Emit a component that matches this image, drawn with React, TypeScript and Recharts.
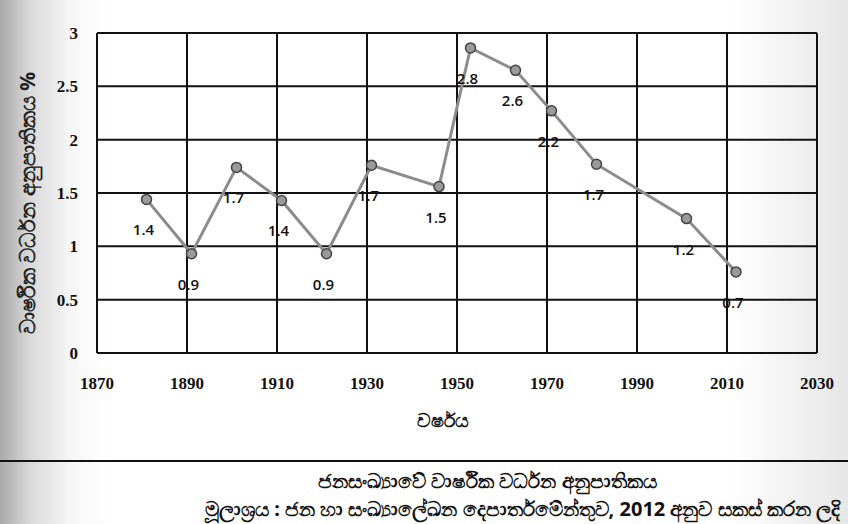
import { LineChart, Line, XAxis, YAxis, CartesianGrid, LabelList } from "recharts";

// census years and annual growth rate (%)
const years = [1881, 1891, 1901, 1911, 1921, 1931, 1946, 1953, 1963, 1971, 1981, 2001, 2012];
const rates = [1.44, 0.93, 1.74, 1.43, 0.93, 1.76, 1.56, 2.86, 2.65, 2.27, 1.77, 1.26, 0.76];
const rateLabels = ["1.4", "0.9", "1.7", "1.4", "0.9", "1.7", "1.5", "2.8", "2.6", "2.2", "1.7", "1.2", "0.7"];

const xTicks = [1870, 1890, 1910, 1930, 1950, 1970, 1990, 2010, 2030];
const yTicks = [0, 0.5, 1, 1.5, 2, 2.5, 3];

const xTitle = "වර්ෂය";
const yTitle = "වාර්ෂික වර්ධන අනුපාතිකය %";
const caption = "ජනසංඛ්‍යාවේ වාර්ෂික වර්ධන අනුපාතිකය";
const source = "මූලාශ්‍රය :  ජන හා සංඛ්‍යාලේඛන දෙපාර්තමේන්තුව, 2012 අනුව සකස් කරන ලදි";

const data = years.map((y, i) => ({ year: y, rate: rates[i], label: rateLabels[i] }));

function XTick(props: any) {
  const { x, y, payload } = props;
  return (
    <text x={x} y={y + 28} textAnchor="middle" fontFamily="Liberation Serif" fontSize={17} fontWeight={700} fill="#111">
      {payload.value}
    </text>
  );
}

function YTick(props: any) {
  const { x, y, payload } = props;
  return (
    <text x={x} y={y + 6} textAnchor="end" fontFamily="Liberation Serif" fontSize={17} fontWeight={700} fill="#111">
      {payload.value}
    </text>
  );
}

function PointLabel(props: any) {
  const { x, y, value } = props;
  return (
    <text x={x - 3} y={y + 36} textAnchor="middle" fontFamily="Open Sans" fontSize={15} fontWeight={600} fill="#111">
      {value}
    </text>
  );
}

const sinhala = { fontFamily: "'Noto Sans', sans-serif", fontWeight: 700, color: "#111", whiteSpace: "nowrap" as const };
const gridLine = { stroke: "#111", strokeWidth: 2 };

export default function App() {
  return (
    <div
      style={{
        position: "absolute",
        left: 0,
        top: 0,
        width: 848,
        height: 524,
        overflow: "hidden",
        background:
          "linear-gradient(to right, #a9a9a9 0px, #d9d9d9 30px, #f6f6f6 70px, #fff 110px, #fff 86%, #e6e6e6 100%)",
      }}
    >
      <LineChart
        width={848}
        height={400}
        data={data}
        margin={{ top: 33, right: 31, bottom: 0, left: 0 }}
        style={{ position: "absolute", left: 0, top: 0 }}
      >
        <CartesianGrid stroke="#111" strokeWidth={2} horizontal={gridLine} vertical={gridLine} />
        <XAxis
          dataKey="year"
          type="number"
          domain={[1870, 2030]}
          ticks={xTicks}
          height={47}
          tickSize={0}
          tickMargin={8}
          axisLine={{ stroke: "#111", strokeWidth: 2 }}
          tick={<XTick />}
          interval={0}
        />
        <YAxis
          type="number"
          domain={[0, 3]}
          ticks={yTicks}
          width={97}
          tickSize={0}
          tickMargin={19}
          axisLine={{ stroke: "#111", strokeWidth: 2 }}
          tick={<YTick />}
          interval={0}
        />
        <Line
          dataKey="rate"
          type="linear"
          stroke="#8c8c8c"
          strokeWidth={3}
          dot={{ r: 5, fill: "#9a9a9a", stroke: "#444", strokeWidth: 1.5 }}
          isAnimationActive={false}
        >
          <LabelList dataKey="label" content={<PointLabel />} />
        </Line>
      </LineChart>

      <div
        style={{
          ...sinhala,
          position: "absolute",
          left: 27,
          top: 203,
          transform: "translate(-50%, -50%) rotate(-90deg)",
          fontSize: 21,
          color: "#222",
        }}
      >
        {yTitle}
      </div>
      <div
        style={{
          ...sinhala,
          position: "absolute",
          left: 443,
          top: 420,
          transform: "translate(-50%, -50%)",
          fontSize: 19,
        }}
      >
        {xTitle}
      </div>
      <div style={{ position: "absolute", left: 0, top: 460, width: 848, height: 2, background: "#111" }} />
      <div style={{ ...sinhala, position: "absolute", left: 318, top: 467, fontSize: 20 }}>{caption}</div>
      <div style={{ ...sinhala, position: "absolute", left: 205, top: 495, fontSize: 20 }}>{source}</div>
    </div>
  );
}
